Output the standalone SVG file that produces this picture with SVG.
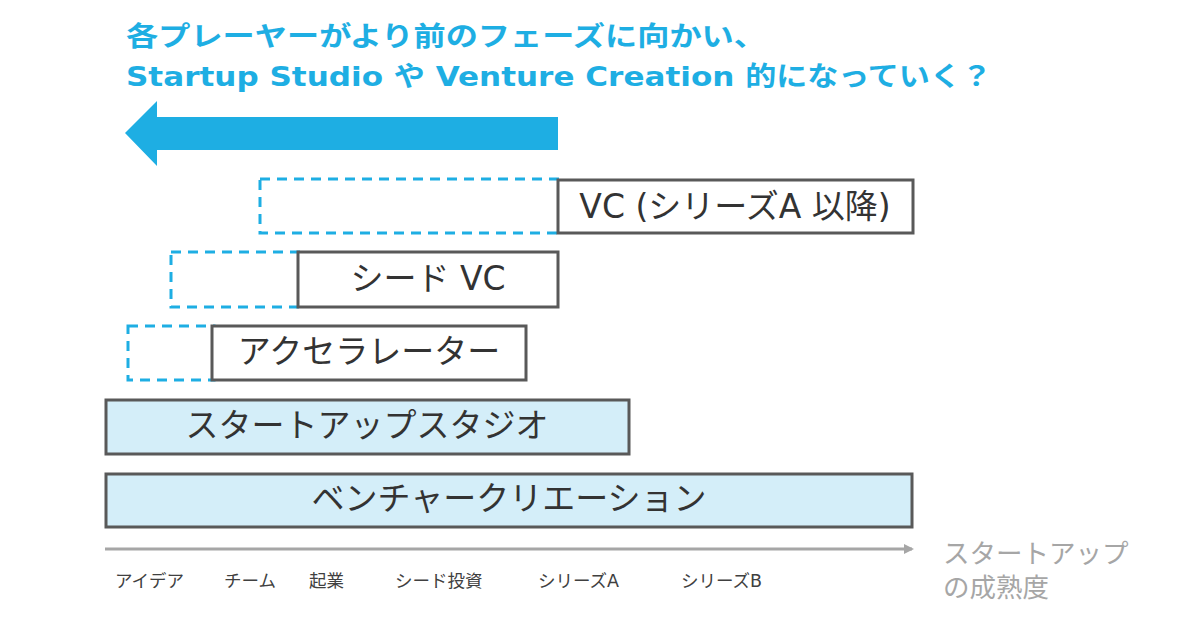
<svg xmlns="http://www.w3.org/2000/svg" width="1200" height="624" viewBox="0 0 1200 624">
<defs>
<style>
.t{font-family:"DejaVu Sans","Noto Sans CJK JP",sans-serif}
.h{fill:#1eaee3;font-weight:bold;font-size:27px}
.dash{fill:none;stroke:#1eaee3;stroke-width:3;stroke-dasharray:10,7}
.box{fill:#fff;stroke:#595959;stroke-width:3}
.sbox{fill:#d4eef9;stroke:#595959;stroke-width:3}
.lbl{fill:#333;font-size:33px}
.ax{fill:#404040;font-size:17.5px}
</style>
<marker id="ah" markerWidth="10" markerHeight="10" refX="8" refY="5" orient="auto" markerUnits="userSpaceOnUse"><path d="M0,0L10,5L0,10z" fill="#a6a6a6"/></marker>
</defs>
<text class="t h" x="126" y="46" textLength="640" lengthAdjust="spacingAndGlyphs">各プレーヤーがより前のフェーズに向かい、</text>
<text class="t h" x="126" y="86" textLength="866" lengthAdjust="spacingAndGlyphs">Startup Studio や Venture Creation 的になっていく？</text>
<polygon points="125,133 157,101 157,117 558,117 558,150 157,150 157,166" fill="#1eaee3"/>
<g id="connectors">
<line x1="105" y1="549" x2="912" y2="549" stroke="#a6a6a6" stroke-width="3" marker-end="url(#ah)"/>
</g>
<rect class="dash" x="260" y="179" width="300" height="54"/>
<rect class="dash" x="171" y="252" width="130" height="55"/>
<rect class="dash" x="128" y="326" width="86" height="54"/>
<g id="vc"><rect class="box" x="558" y="180" width="355" height="53"/><text class="t lbl" x="735" y="218" text-anchor="middle">VC (シリーズA 以降)</text></g>
<g id="seed"><rect class="box" x="298" y="252" width="260" height="55"/><text class="t lbl" x="428" y="290" text-anchor="middle">シード VC</text></g>
<g id="accel"><rect class="box" x="212" y="326" width="314" height="54"/><text class="t lbl" x="369" y="363" text-anchor="middle">アクセラレーター</text></g>
<g id="studio"><rect class="sbox" x="106" y="400" width="523" height="54"/><text class="t lbl" x="367" y="437" text-anchor="middle">スタートアップスタジオ</text></g>
<g id="venture"><rect class="sbox" x="106" y="474" width="806" height="53"/><text class="t lbl" x="509" y="510" text-anchor="middle">ベンチャークリエーション</text></g>
<g id="axis">
<text class="t ax" x="115" y="587">アイデア</text>
<text class="t ax" x="224" y="587">チーム</text>
<text class="t ax" x="309" y="587">起業</text>
<text class="t ax" x="395" y="587">シード投資</text>
<text class="t ax" x="538" y="587">シリーズA</text>
<text class="t ax" x="681" y="587">シリーズB</text>
<text class="t" x="943" y="563" font-size="26.5" fill="#a6a6a6">スタートアップ</text>
<text class="t" x="943" y="597" font-size="26.5" fill="#a6a6a6">の成熟度</text>
</g>
</svg>
